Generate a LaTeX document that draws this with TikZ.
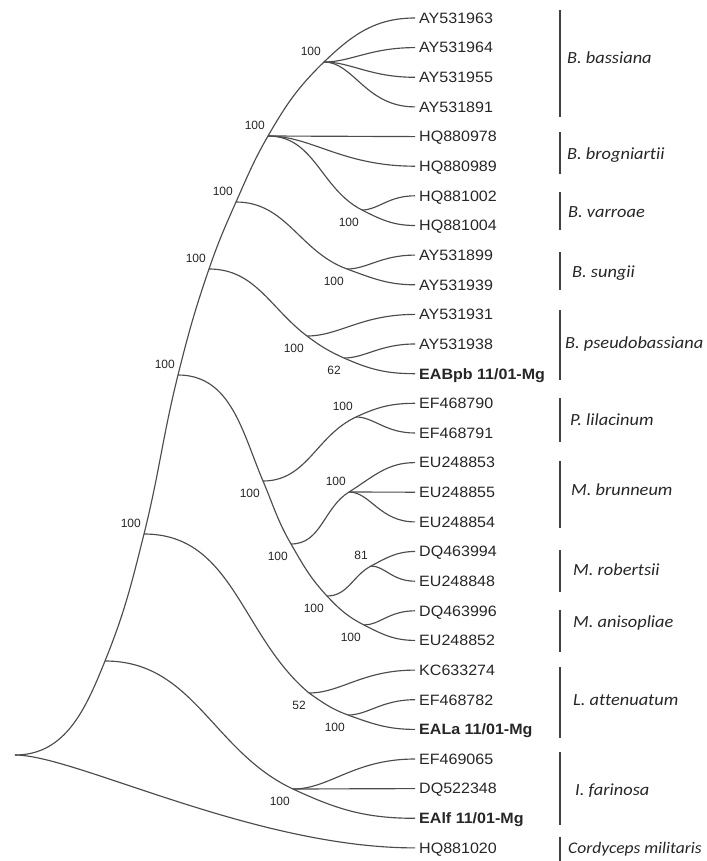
\documentclass[tikz,border=0pt]{standalone}
\usepackage{fontspec}
\newfontfamily\leaffont[FakeStretch=1.07]{Liberation Sans}
\newfontfamily\bootfont{Liberation Sans}
\newfontfamily\cladefont[FakeStretch=1.08,Ligatures=NoCommon]{Carlito}

\tikzset{
  branch/.style={draw=black!70, line width=1.15pt},
  sig/.style={out=0, in=180, out looseness=0.75, in looseness=1.25},
  leaf/.style={anchor=west, inner xsep=4pt, inner ysep=0pt, text height=10.7pt,
    text depth=0pt, text=black!85, font=\leaffont\fontsize{15}{18}\selectfont},
  bsup/.style={anchor=south east, inner xsep=3pt, inner ysep=6pt, text height=8.7pt,
    text depth=0pt, text=black!85, font=\bootfont\fontsize{12}{14}\selectfont},
  bsdn/.style={bsup, anchor=north east, inner ysep=8pt},
  bar/.style={draw=black!75, line width=1.6pt},
  clade/.style={anchor=west, inner sep=0pt, text height=10.9pt, text depth=0pt,
    text=black!85, font=\cladefont\itshape\fontsize{17}{20}\selectfont},
}

\begin{document}
\begin{tikzpicture}[x=1pt, y=1pt]
  \useasboundingbox (0,0) rectangle (706,-861);

  % internal nodes
  \coordinate (root)  at (15,-755);
  \coordinate (ingrp) at (105,-661);
  \coordinate (clav)  at (144,-534);
  \coordinate (hypo)  at (178,-375);
  \coordinate (beau)  at (209,-269);
  \coordinate (beau2) at (236,-202);
  \coordinate (brog)  at (268,-136);
  \coordinate (bass)  at (324,-62);
  \coordinate (varr)  at (362,-210);
  \coordinate (sung)  at (347,-269);
  \coordinate (pseu)  at (307,-336);
  \coordinate (pseu2) at (344,-358);
  \coordinate (meta)  at (263,-481);
  \coordinate (lila)  at (356,-417);
  \coordinate (meta2) at (291,-544);
  \coordinate (brun)  at (349,-492);
  \coordinate (meta3) at (327,-596);
  \coordinate (robe)  at (371,-566);
  \coordinate (anis)  at (364,-625);
  \coordinate (atte)  at (309,-693);
  \coordinate (atte2) at (348,-715);
  \coordinate (fari)  at (293,-789);

  % leaves
  \node[leaf] (t0)  at (415,-18.0)  {AY531963};
  \node[leaf] (t1)  at (415,-47.6)  {AY531964};
  \node[leaf] (t2)  at (415,-77.3)  {AY531955};
  \node[leaf] (t3)  at (415,-106.9) {AY531891};
  \node[leaf] (t4)  at (415,-136.6) {HQ880978};
  \node[leaf] (t5)  at (415,-166.2) {HQ880989};
  \node[leaf] (t6)  at (415,-195.8) {HQ881002};
  \node[leaf] (t7)  at (415,-225.5) {HQ881004};
  \node[leaf] (t8)  at (415,-255.1) {AY531899};
  \node[leaf] (t9)  at (415,-284.8) {AY531939};
  \node[leaf] (t10) at (415,-314.4) {AY531931};
  \node[leaf] (t11) at (415,-344.0) {AY531938};
  \node[leaf] (t12) at (415,-373.7) {\bfseries EABpb 11/01-Mg};
  \node[leaf] (t13) at (415,-403.3) {EF468790};
  \node[leaf] (t14) at (415,-433.0) {EF468791};
  \node[leaf] (t15) at (415,-462.6) {EU248853};
  \node[leaf] (t16) at (415,-492.2) {EU248855};
  \node[leaf] (t17) at (415,-521.9) {EU248854};
  \node[leaf] (t18) at (415,-551.5) {DQ463994};
  \node[leaf] (t19) at (415,-581.2) {EU248848};
  \node[leaf] (t20) at (415,-610.8) {DQ463996};
  \node[leaf] (t21) at (415,-640.4) {EU248852};
  \node[leaf] (t22) at (415,-670.1) {KC633274};
  \node[leaf] (t23) at (415,-699.7) {EF468782};
  \node[leaf] (t24) at (415,-729.4) {\bfseries EALa 11/01-Mg};
  \node[leaf] (t25) at (415,-759.0) {EF469065};
  \node[leaf] (t26) at (415,-788.6) {DQ522348};
  \node[leaf] (t27) at (415,-818.3) {\bfseries EAlf 11/01-Mg};
  \node[leaf] (t28) at (415,-847.9) {HQ881020};

  % backbone
  \draw[branch] (root) to[out=0,in=248] (ingrp) to[out=68,in=256] (clav)
    to[out=76,in=256] (hypo) to[out=76,in=251] (beau) to[out=71,in=246] (beau2)
    to[out=66,in=240] (brog) to[out=60,in=224] (bass) to[out=44,in=180] (t0.west);
  \draw[branch] (root) to[out=0,in=180,out distance=60pt,in distance=161pt] (t28.west);

  % B. bassiana, B. brogniartii, B. varroae
  \draw[branch] (bass) to[sig] (t1.west);
  \draw[branch] (bass) to[sig] (t2.west);
  \draw[branch] (bass) to[sig] (t3.west);
  \draw[branch] (brog) -- (t4.west);
  \draw[branch] (brog) to[sig] (t5.west);
  \draw[branch] (brog) to[out=0,in=153] (varr) to[out=-27,in=180] (t7.west);
  \draw[branch] (varr) to[sig] (t6.west);

  % B. sungii, B. pseudobassiana
  \draw[branch] (beau2) to[out=0,in=160] (sung) to[out=-20,in=180] (t9.west);
  \draw[branch] (sung) to[sig] (t8.west);
  \draw[branch] (beau) to[out=0,in=143] (pseu) to[out=-37,in=156] (pseu2)
    to[out=-24,in=180] (t12.west);
  \draw[branch] (pseu) to[sig] (t10.west);
  \draw[branch] (pseu2) to[sig] (t11.west);

  % Metarhizium and P. lilacinum
  \draw[branch] (hypo) to[out=0,in=113] (meta) to[out=-67,in=120] (meta2)
    to[out=-60,in=133] (meta3) to[out=-47,in=153] (anis) to[out=-27,in=180] (t21.west);
  \draw[branch] (meta) to[out=0,in=205] (lila) to[out=25,in=180] (t13.west);
  \draw[branch] (lila) to[sig] (t14.west);
  \draw[branch] (meta2) to[out=0,in=212] (brun) to[out=32,in=180] (t15.west);
  \draw[branch] (brun) -- (t16.west);
  \draw[branch] (brun) to[sig] (t17.west);
  \draw[branch] (meta3) to[out=0,in=208] (robe) to[out=28,in=180] (t18.west);
  \draw[branch] (robe) to[sig] (t19.west);
  \draw[branch] (anis) to[sig] (t20.west);

  % L. attenuatum, I. farinosa
  \draw[branch] (clav) to[out=0,in=140] (atte) to[out=-35,in=160] (atte2)
    to[out=-20,in=180] (t24.west);
  \draw[branch] (atte) to[sig] (t22.west);
  \draw[branch] (atte2) to[sig] (t23.west);
  \draw[branch] (ingrp) to[out=0,in=155] (fari) to[out=-25,in=180] (t27.west);
  \draw[branch] (fari) to[sig] (t25.west);
  \draw[branch] (fari) -- (t26.west);

  % bootstrap values
  \node[bsup] at (bass)  {100};
  \node[bsup] at (brog)  {100};
  \node[bsup] at (beau2) {100};
  \node[bsup] at (beau)  {100};
  \node[bsup] at (hypo)  {100};
  \node[bsup] at (clav)  {100};
  \node[bsdn] at (varr)  {100};
  \node[bsdn] at (sung)  {100};
  \node[bsdn] at (pseu)  {100};
  \node[bsdn] at (pseu2) {62};
  \node[bsup] at (lila)  {100};
  \node[bsdn] at (meta)  {100};
  \node[bsup] at (brun)  {100};
  \node[bsdn] at (meta2) {100};
  \node[bsup] at (robe)  {81};
  \node[bsdn] at (meta3) {100};
  \node[bsdn] at (anis)  {100};
  \node[bsdn] at (atte)  {52};
  \node[bsdn] at (atte2) {100};
  \node[bsdn] at (fari)  {100};

  % clade bars
  \draw[bar] (560,-10)  -- (560,-117);
  \draw[bar] (560,-132) -- (560,-174);
  \draw[bar] (560,-192) -- (560,-230);
  \draw[bar] (560,-252) -- (560,-290);
  \draw[bar] (560,-310) -- (560,-380);
  \draw[bar] (560,-398) -- (560,-442);
  \draw[bar] (560,-461) -- (560,-528);
  \draw[bar] (560,-550) -- (560,-592);
  \draw[bar] (560,-610) -- (560,-652);
  \draw[bar] (560,-667) -- (560,-738);
  \draw[bar] (560,-752) -- (560,-825);
  \draw[bar] (560,-837) -- (560,-861);

  \node[clade] (cbass) at (567,-58)  {B. bassiana};
  \node[clade] (cbrog) at (567,-154) {B. brogniartii};
  \node[clade] (cvarr) at (568,-212) {B. varroae};
  \node[clade] (csung) at (572,-272) {B. sungii};
  \node[clade] (cpseu) at (565,-343) {B. pseudobassiana};
  \node[clade] (clila) at (570,-420) {P. lilacinum};
  \node[clade] (cbrun) at (571,-490) {M. brunneum};
  \node[clade] (crobe) at (573,-570) {M. robertsii};
  \node[clade] (canis) at (573,-622) {M. anisopliae};
  \node[clade] (catte) at (573,-700) {L. attenuatum};
  \node[clade] (cfari) at (575,-790) {I. farinosa};
  \node[clade, font=\cladefont\itshape\fontsize{16.2}{19}\selectfont]
    (ccord) at (568,-848) {Cordyceps militaris};
\end{tikzpicture}
\end{document}
